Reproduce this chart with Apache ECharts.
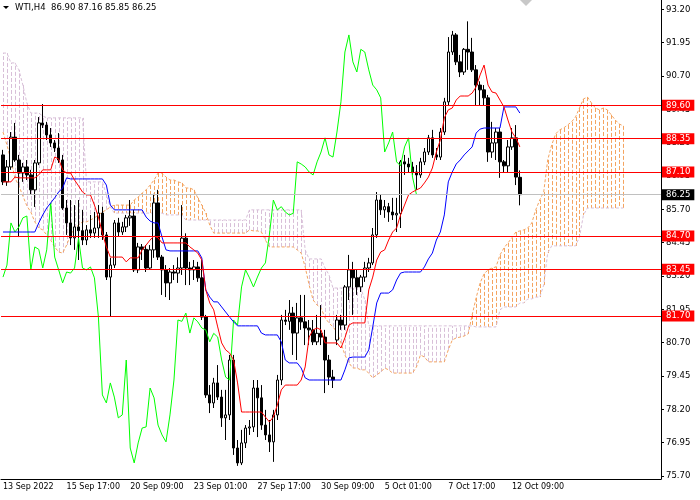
<!DOCTYPE html>
<html>
<head>
<meta charset="utf-8">
<script src="https://cdn.jsdelivr.net/npm/echarts@6/dist/echarts.min.js"></script>
<style>
  html, body { margin: 0; padding: 0; background: #fff; }
  #main { width: 700px; height: 500px; }
</style>
</head>
<body>
<div id="main"></div>
<script>
// WTI H4 candles (bar 0 = 13 Sep 2022)
const opens = [87.74,86.73,87.29,88.41,87.55,87.06,87.29,86.99,86.43,87.44,
  88.94,88.86,88.49,88.19,88.00,87.55,85.75,85.19,84.63,85.04,
  84.90,84.55,84.93,84.81,85.00,85.56,84.74,83.16,83.61,85.19,
  84.85,85.04,85.38,85.45,83.43,84.29,84.20,83.50,84.18,85.94,
  83.91,83.43,82.94,83.35,83.31,83.50,84.62,83.50,83.43,83.54,
  83.13,81.66,78.74,78.44,79.19,78.66,77.88,77.99,80.05,76.75,
  76.19,76.94,77.50,77.54,79.00,78.63,77.61,77.24,76.98,77.99,
  79.30,81.55,81.50,81.81,81.06,81.63,81.48,81.25,81.18,80.73,
  81.05,80.91,80.05,79.41,80.80,81.55,81.36,82.79,83.43,83.13,
  82.79,83.16,83.50,83.69,84.74,86.05,85.68,85.80,85.60,85.49,
  85.55,87.48,87.40,87.29,87.10,86.99,87.48,87.85,88.38,87.74,
  87.66,88.60,89.73,91.60,92.24,91.23,90.85,91.70,91.60,90.93,
  90.36,90.18,89.88,87.85,88.19,88.60,87.48,87.33,88.04,88.38,
  86.90];
const highs = [87.93,87.55,88.60,88.94,87.74,87.44,87.55,87.18,87.55,89.16,
  89.65,88.98,88.75,88.30,88.56,87.74,86.05,86.05,85.86,86.05,
  85.68,85.11,85.49,85.60,85.86,85.80,84.85,83.88,85.30,85.38,
  85.23,85.49,86.05,85.68,84.44,84.40,84.36,84.36,86.28,86.43,
  83.99,83.61,83.50,83.61,83.90,85.86,84.80,83.73,83.80,83.73,
  83.80,81.74,79.11,79.38,79.86,78.93,78.93,80.24,80.24,77.05,
  77.43,77.61,77.80,79.30,79.30,79.11,78.18,77.80,78.18,79.49,
  81.74,81.93,82.30,82.04,82.19,82.49,82.49,81.55,81.55,81.74,
  82.11,81.18,80.24,79.68,81.74,81.74,82.86,83.99,83.73,83.43,
  83.24,83.73,83.88,85.00,86.35,86.24,86.05,85.94,86.13,86.13,
  87.55,87.74,87.63,87.48,87.36,87.63,88.00,88.49,88.68,88.00,
  88.75,89.88,92.16,92.39,92.31,91.49,91.75,92.75,92.13,91.11,
  90.50,90.36,89.99,88.98,88.75,88.75,87.55,88.30,88.75,88.86,
  87.16];
const lows = [86.61,86.58,87.18,87.48,84.66,86.73,86.80,86.24,85.79,87.36,
  88.75,88.30,88.04,87.85,87.44,85.68,84.74,84.36,84.18,83.80,
  84.36,84.36,84.63,84.63,84.63,84.55,83.05,81.70,83.50,84.70,
  84.74,84.85,85.08,83.35,83.31,83.80,83.35,83.43,83.88,83.80,
  82.49,82.41,82.30,83.05,82.94,83.24,82.86,82.86,83.05,82.98,
  81.55,78.63,78.06,78.25,78.55,77.54,77.05,77.80,76.49,76.08,
  76.11,76.75,77.24,77.35,77.16,77.43,77.05,76.60,76.23,77.80,
  79.11,81.36,81.18,80.24,80.05,81.18,80.61,80.61,80.61,80.61,
  80.61,78.81,79.11,79.00,80.61,81.18,81.18,82.30,81.74,82.49,
  82.60,82.98,83.35,83.61,84.63,85.49,85.38,85.23,85.30,84.85,
  85.00,86.99,87.10,86.99,86.43,86.88,87.36,87.74,87.63,87.55,
  87.55,88.49,89.61,91.49,91.11,90.66,90.74,90.93,90.85,89.61,
  89.61,89.61,87.48,87.63,87.55,86.88,87.10,87.10,87.93,86.61,
  85.85];
const closes = [86.73,87.29,88.41,87.55,87.06,87.29,86.99,86.43,87.44,88.94,
  88.86,88.49,88.19,88.00,87.55,85.75,85.19,84.63,85.04,84.90,
  84.55,84.93,84.81,85.00,85.56,84.74,83.16,83.61,85.19,84.85,
  85.04,85.38,85.45,83.43,84.29,84.20,83.50,84.18,85.94,83.91,
  83.43,82.94,83.35,83.31,83.50,84.62,83.50,83.43,83.54,83.13,
  81.66,78.74,78.44,79.19,78.66,77.88,77.99,80.05,76.75,76.19,
  76.94,77.50,77.54,79.00,78.63,77.61,77.24,76.98,77.99,79.30,
  81.55,81.50,81.81,81.06,81.63,81.48,81.25,81.18,80.73,81.05,
  80.91,80.05,79.41,79.30,81.55,81.36,82.79,83.43,83.13,82.79,
  83.16,83.50,83.69,84.74,86.05,85.68,85.80,85.60,85.49,85.55,
  87.48,87.40,87.29,87.10,86.99,87.48,87.85,88.38,87.74,87.66,
  88.60,89.73,91.60,92.24,91.23,90.85,91.70,91.60,90.93,90.36,
  90.18,89.88,87.85,88.19,88.60,87.48,87.33,88.04,88.38,86.91,
  86.25];

// Ichimoku lines
const tenkan = [86.73,86.73,86.73,86.91,86.88,86.88,86.88,86.88,86.88,86.99,
  87.18,87.18,87.18,87.66,87.59,87.18,87.06,87.06,86.80,86.58,
  86.35,86.24,86.24,85.86,85.41,84.81,84.29,83.91,83.91,83.91,
  83.91,83.73,83.88,83.88,83.88,84.18,84.36,84.55,84.70,84.63,
  84.44,84.44,84.44,84.44,84.44,84.44,84.44,84.29,84.18,84.06,
  83.80,82.68,82.19,81.93,81.29,80.69,80.43,80.31,80.05,79.19,
  78.10,78.10,78.10,78.10,78.10,78.10,77.91,77.73,77.91,78.36,
  78.93,79.11,79.11,79.11,79.11,79.30,79.79,80.91,81.18,81.25,
  81.18,80.69,80.69,80.69,80.69,80.50,80.88,81.36,81.44,81.44,
  81.44,81.44,82.68,83.16,83.80,84.10,84.18,84.55,84.85,85.00,
  85.49,85.86,86.24,86.35,86.43,86.50,86.69,86.91,87.25,87.85,
  88.30,89.13,89.43,89.50,89.80,89.95,89.95,89.95,90.06,90.29,
  90.74,91.11,90.36,90.10,90.06,89.80,89.54,89.05,88.60,88.38,
  88.04];
const kijun = [84.85,84.85,84.85,84.85,84.85,84.85,84.85,84.85,84.85,85.19,
  85.49,85.75,85.94,86.13,86.35,86.50,86.88,86.84,86.84,86.84,
  86.84,86.84,86.84,86.84,86.84,86.84,86.61,85.86,85.68,85.68,
  85.68,85.68,85.68,85.68,85.68,85.68,85.41,85.26,85.19,85.19,
  84.66,84.18,84.14,84.14,84.14,84.14,84.14,84.14,84.14,84.14,
  83.88,82.68,82.41,82.23,82.23,82.04,81.85,81.66,81.48,81.33,
  81.33,81.33,81.33,81.33,81.33,81.06,80.99,80.99,80.99,80.99,
  80.73,80.05,79.94,79.94,79.94,79.75,79.38,79.30,79.30,79.30,
  79.30,79.30,79.30,79.30,79.30,79.30,79.68,80.13,80.16,80.16,
  80.16,80.16,80.43,81.29,82.19,82.56,82.56,82.56,82.68,83.05,
  83.31,83.35,83.35,83.35,83.35,83.35,83.54,83.84,84.06,84.55,
  84.85,85.49,86.73,87.10,87.40,87.55,87.74,87.89,88.04,88.56,
  88.71,88.75,88.75,88.75,88.75,88.75,89.54,89.54,89.54,89.54,
  89.31];
const spanA = [88.60,88.11,87.55,86.88,86.58,86.20,85.83,85.60,85.23,85.00,
  84.93,84.74,84.55,84.29,84.10,84.06,84.36,84.74,85.00,85.11,
  85.23,85.23,85.30,85.38,85.49,85.60,85.68,85.79,85.86,85.86,
  85.86,85.86,85.86,86.05,86.16,86.31,86.43,86.61,86.80,87.06,
  87.06,86.91,86.80,86.80,86.73,86.69,86.50,86.50,86.43,86.13,
  85.86,85.56,85.11,84.81,84.81,84.81,84.81,84.81,84.81,84.81,
  84.81,84.81,84.93,84.89,84.89,84.85,84.55,84.29,84.29,84.29,
  84.29,84.29,84.29,84.29,84.18,84.06,83.54,82.86,82.30,82.11,
  82.00,81.63,81.44,81.29,81.10,80.69,80.24,79.94,79.75,79.75,
  79.68,79.68,79.56,79.38,79.49,79.60,79.75,79.68,79.56,79.56,
  79.56,79.56,79.56,79.56,79.79,80.24,80.16,79.98,79.98,79.98,
  79.98,79.98,80.43,80.80,80.88,80.91,80.95,81.03,81.74,82.38,
  82.94,83.28,83.43,83.50,83.54,83.99,84.25,84.44,84.63,84.85,
  84.89,84.93,85.00,85.19,85.68,86.05,86.35,87.55,88.11,88.53,
  88.68,88.75,88.86,88.98,89.16,89.50,89.84,89.91,89.69,89.50,
  89.43,89.50,89.43,89.24,89.05,88.90,88.83];
const spanB = [91.56,91.56,91.19,91.19,90.93,90.36,89.69,89.31,89.31,89.31,
  89.20,89.13,89.13,89.13,89.13,89.13,89.13,89.13,89.13,89.13,
  89.13,86.73,86.73,86.73,86.73,86.73,86.24,85.79,85.56,85.56,
  85.56,85.56,85.56,85.56,85.56,85.56,85.56,85.56,85.56,85.56,
  85.56,85.49,85.49,85.49,85.49,85.49,85.30,85.30,85.30,85.30,
  85.30,85.30,85.30,85.30,85.30,85.30,85.30,85.30,85.30,85.30,
  85.30,85.30,85.68,85.68,85.68,85.68,85.68,85.68,85.68,85.68,
  85.68,85.68,85.68,85.68,85.68,85.68,84.18,83.84,83.84,83.84,
  83.84,83.50,83.24,82.75,82.75,82.75,82.75,82.75,82.75,82.75,
  82.75,82.30,81.33,81.33,81.33,81.33,81.33,81.33,81.33,81.33,
  81.33,81.33,81.33,81.33,81.33,81.33,81.33,81.33,81.33,81.33,
  81.33,81.33,81.33,81.33,81.33,81.33,81.33,81.33,81.33,81.29,
  81.29,81.29,81.29,81.29,81.29,81.93,82.04,82.04,82.04,82.04,
  82.19,82.19,82.34,82.34,82.41,82.41,82.86,84.06,84.33,84.33,
  84.33,84.33,84.33,84.33,84.33,84.66,85.49,85.75,85.75,85.75,
  85.75,85.75,85.75,85.75,85.75,85.75,85.75];
const chikou = closes.slice(26);   // close drawn 26 bars back

const levels = [89.60, 88.35, 87.10, 84.70, 83.45, 81.70];
const lastPrice = 86.25;

const yTicks = [75.70, 76.95, 78.20, 79.45, 80.70, 81.95, 83.20, 84.45,
  85.70, 86.95, 88.20, 89.45, 90.70, 91.95, 93.20];
const tickBars = [0, 16, 32, 48, 64, 80, 96, 112, 128];
const tickLabels = ['13 Sep 2022', '15 Sep 17:00', '20 Sep 09:00', '23 Sep 01:00',
  '27 Sep 17:00', '30 Sep 09:00', '5 Oct 01:00', '7 Oct 17:00', '12 Oct 09:00'];

const nBars = 166;
const font = "'DejaVu Sans', sans-serif";

const chart = echarts.init(document.getElementById('main'));

const cats = [];
for (let i = 0; i < nBars; i++) cats.push(String(i));

const candles = opens.map((o, i) => [o, closes[i], lows[i], highs[i]]);
const cloud = spanA.map((a, i) => [i, a, spanB[i]]);

const last = opens.length - 1;
const header = 'WTI,H4  ' + [opens[last], highs[last], lows[last], closes[last]]
  .map(v => v.toFixed(2)).join(' ');

const isTick = (idx) => tickBars.indexOf(idx) >= 0;

const levelLines = levels.map(v => ({ yAxis: v }));
levelLines.push({
  yAxis: lastPrice,
  lineStyle: { color: '#c0c0c0' },
  label: { backgroundColor: '#000000' }
});

const option = {
  animation: false,
  backgroundColor: '#ffffff',
  grid: { left: -2, right: 39, top: 0, bottom: 21 },
  xAxis: {
    type: 'category',
    data: cats,
    boundaryGap: true,
    axisLine: { lineStyle: { color: '#000', width: 1 } },
    axisTick: { interval: isTick, alignWithLabel: true, length: 4, lineStyle: { color: '#000' } },
    axisLabel: {
      interval: isTick,
      formatter: (v, idx) => {
        const k = tickBars.indexOf(idx);
        return k >= 0 ? tickLabels[k] : '';
      },
      align: 'left',
      margin: 4,
      fontSize: 8,
      fontFamily: font,
      color: '#000'
    },
    splitLine: { show: false }
  },
  yAxis: {
    type: 'value',
    position: 'right',
    min: 75.5875,
    max: 93.55,
    scale: true,
    splitLine: { show: false },
    axisLine: { show: true, lineStyle: { color: '#000', width: 1 } },
    axisTick: { show: true, length: 3, customValues: yTicks, lineStyle: { color: '#000' } },
    axisLabel: {
      customValues: yTicks,
      formatter: v => v.toFixed(2),
      margin: 5,
      fontSize: 8.5,
      fontFamily: font,
      color: '#000'
    }
  },
  graphic: [
    { type: 'polygon', shape: { points: [[3, 6], [9, 6], [6, 9]] }, style: { fill: '#000' } },
    { type: 'text', x: 15, y: 8,
      style: { text: header, fill: '#000', font: "8.5px 'DejaVu Sans'", verticalAlign: 'middle' } },
    { type: 'polygon', shape: { points: [[520, 0], [532, 0], [526, 6]] }, style: { fill: '#c8c8c8' } }
  ],
  series: [
    {
      type: 'custom',
      name: 'cloud',
      z: 1,
      silent: true,
      data: cloud,
      encode: { x: 0, y: [1, 2] },
      renderItem: function (params, api) {
        const a = api.value(1);
        const b = api.value(2);
        const p1 = api.coord([api.value(0), a]);
        const p2 = api.coord([api.value(0), b]);
        const x = Math.round(p1[0]) + 0.5;
        return {
          type: 'line',
          shape: { x1: x, y1: p1[1], x2: x, y2: p2[1] },
          style: { stroke: a >= b ? '#F4A460' : '#D8BFD8', lineWidth: 1, lineDash: [4, 2] }
        };
      }
    },
    {
      type: 'line', name: 'Senkou A', data: spanA, z: 2, symbol: 'none', silent: true,
      lineStyle: { color: '#F4A460', width: 1, type: [3, 2] }
    },
    {
      type: 'line', name: 'Senkou B', data: spanB, z: 2, symbol: 'none', silent: true,
      lineStyle: { color: '#D8BFD8', width: 1, type: [3, 2] }
    },
    {
      type: 'candlestick',
      name: 'WTI',
      data: candles,
      z: 3,
      barWidth: 3,
      itemStyle: {
        color: '#ffffff',
        color0: '#000000',
        borderColor: '#000000',
        borderColor0: '#000000',
        borderWidth: 1
      }
    },
    {
      type: 'line', name: 'Chikou', data: chikou, z: 4, symbol: 'none', silent: true,
      lineStyle: { color: '#00ff00', width: 1 }
    },
    {
      type: 'line', name: 'Kijun', data: kijun, z: 4, symbol: 'none', silent: true,
      lineStyle: { color: '#0000ff', width: 1 }
    },
    {
      type: 'line', name: 'Tenkan', data: tenkan, z: 4, symbol: 'none', silent: true,
      lineStyle: { color: '#ff0000', width: 1 }
    },
    {
      type: 'line', name: 'levels', data: [], z: 5, clip: false,
      markLine: {
        silent: true,
        symbol: ['none', 'none'],
        animation: false,
        lineStyle: { color: '#ff0000', width: 1, type: 'solid' },
        label: {
          position: 'end',
          distance: 1,
          formatter: p => p.value.toFixed(2),
          color: '#ffffff',
          backgroundColor: '#ff0000',
          padding: [1, 4, 0, 4],
          lineHeight: 10,
          fontSize: 8.5,
          fontFamily: font
        },
        data: levelLines
      }
    }
  ]
};

chart.setOption(option);
</script>
</body>
</html>
